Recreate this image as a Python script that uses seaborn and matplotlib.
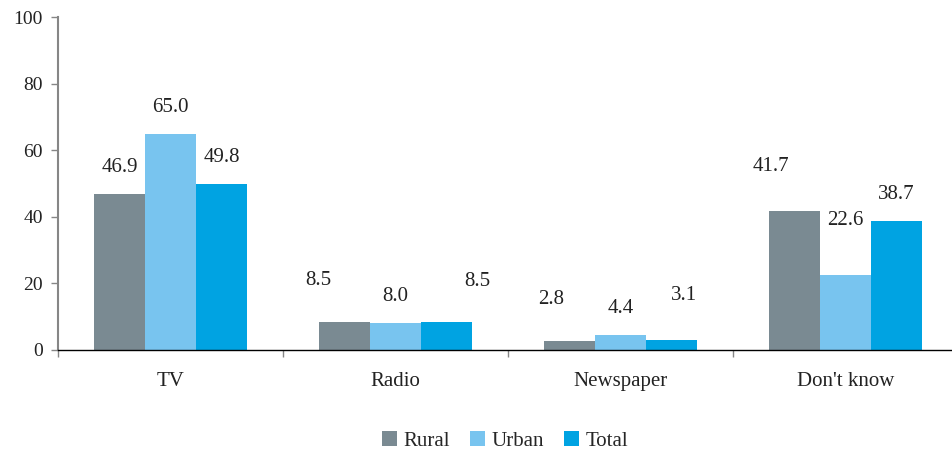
import matplotlib
matplotlib.use("Agg")
import matplotlib.pyplot as plt
import seaborn as sns
import pandas as pd
from matplotlib.patches import Patch

categories = ["TV", "Radio", "Newspaper", "Don't know"]
series = ["Rural", "Urban", "Total"]
rural = [46.9, 8.5, 2.8, 41.7]
urban = [65.0, 8.0, 4.4, 22.6]
total = [49.8, 8.5, 3.1, 38.7]
colors = ["#7a8a92", "#78c4ef", "#00a3e2"]

# label offsets (points) relative to the top-centre of each bar
label_dx = {"Rural": [0, -19, -13, -17], "Urban": [0, 0, 0, 0], "Total": [0, 22, 9, 0]}
label_dy = {"Rural": [19, 30, 30, 32], "Urban": [19, 19, 19, 39], "Total": [19, 29, 32, 19]}

df = pd.DataFrame({
    "category": categories * 3,
    "series": [s for s in series for _ in categories],
    "value": rural + urban + total,
})

sns.set_style("white")
plt.rcParams["font.family"] = ["Liberation Serif", "DejaVu Serif"]

fig = plt.figure(figsize=(9.52, 4.55), dpi=100)
ax = fig.add_axes([58 / 952, 105 / 455, 900 / 952, 333 / 455])

sns.barplot(data=df, x="category", y="value", hue="series", order=categories,
            hue_order=series, palette=colors, width=0.68, saturation=1,
            linewidth=0, legend=False, ax=ax)

ax.set_ylim(0, 100)
ax.set_xlim(-0.5, 3.5)
ax.set_yticks(range(0, 101, 20))
ax.set_xlabel("")
ax.set_ylabel("")

for sp in ["top", "right"]:
    ax.spines[sp].set_visible(False)
ax.spines["left"].set_color("#868686")
ax.spines["left"].set_linewidth(1.5)
ax.spines["bottom"].set_color("black")
ax.spines["bottom"].set_linewidth(1.0)

ax.tick_params(axis="y", which="major", left=True, length=5, width=1, color="#868686",
               pad=6, labelsize=14, labelcolor="#222222", direction="out")
ax.tick_params(axis="x", which="major", bottom=False, length=0, pad=16,
               labelsize=15, labelcolor="#222222")
ax.set_xticks([-0.5, 0.5, 1.5, 2.5, 3.5], minor=True)
ax.tick_params(axis="x", which="minor", bottom=True, length=5, width=1,
               color="#868686", direction="out")

for container, s in zip(ax.containers, series):
    for i, bar in enumerate(container):
        h = bar.get_height()
        ax.annotate(f"{h:.1f}", xy=(bar.get_x() + bar.get_width() / 2, h),
                    xytext=(label_dx[s][i], label_dy[s][i]), textcoords="offset points",
                    ha="center", va="center", fontsize=15, color="#222222")

handles = [Patch(facecolor=c, edgecolor="none") for c in colors]
fig.legend(handles, series, loc="center", bbox_to_anchor=(505 / 952, 1 - 441 / 455),
           ncol=3, frameon=False, fontsize=15, handlelength=0.7, handleheight=0.7,
           handletextpad=0.3, columnspacing=1.0)

fig.savefig("out.png", dpi=100)
